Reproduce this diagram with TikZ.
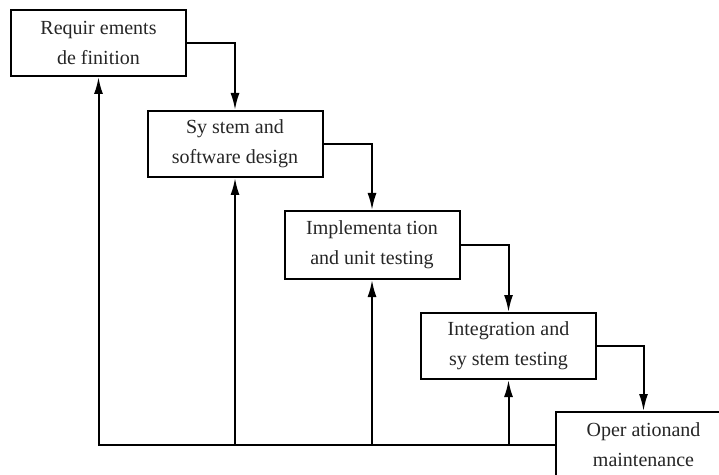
\documentclass[tikz,border=0pt]{standalone}
\usepackage{fontspec}
\setmainfont{Liberation Serif}
\usetikzlibrary{arrows.meta}
\begin{document}
\begin{tikzpicture}[x=1pt, y=1pt,
    phase/.style={draw, line width=2pt, fill=white, minimum width=175pt, minimum height=66pt, align=center, font=\fontsize{20}{30}\selectfont, text=black!85},
    flow/.style={line width=2pt, -{Latex[length=17pt,width=9pt]}}]
    \useasboundingbox (0,0) rectangle (719,474);
    \clip (0,0) rectangle (719,474);
    % Phases
    \node[phase] (req) at (98.5,431) {Requir ements\\de finition};
    \node[phase] (design) at (235,330) {Sy stem and\\software design};
    \node[phase, minimum height=68pt] (impl) at (372,229) {Implementa tion\\and unit testing};
    \node[phase] (integ) at (508.5,128) {Integration and\\sy stem testing};
    \node[phase] (oper) at (643.5,29) {Oper ationand\\maintenance};
    % Cascade
    \draw[flow] (req.east) -| (design.north);
    \draw[flow] (design.east) -| (impl.north);
    \draw[flow] (impl.east) -| (integ.north);
    \draw[flow] (integ.east) -| (oper.north);
    % Feedback
    \draw[flow] (oper.west) -| (req.south);
    \foreach \n in {design, impl, integ} \draw[flow] (\n.south |- oper.west) -- (\n.south);
\end{tikzpicture}
\end{document}
